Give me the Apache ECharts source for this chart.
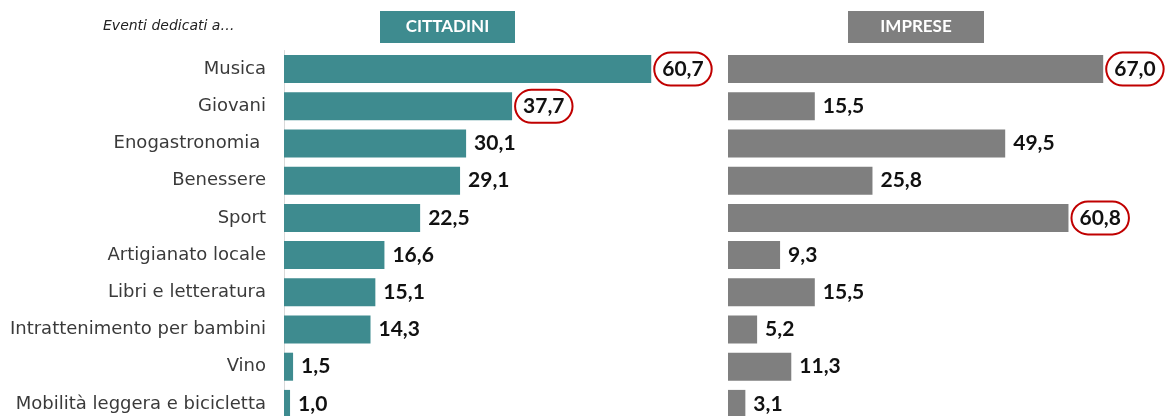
<!DOCTYPE html>
<html>
<head>
<meta charset="utf-8">
<script src="https://cdn.jsdelivr.net/npm/echarts@6/dist/echarts.min.js"></script>
<style>
  html, body { margin: 0; padding: 0; background: #fff; }
  #chart { width: 1171px; height: 416px; }
</style>
</head>
<body>
<div id="chart"></div>
<script>
// dati
const categorie = [
  'Musica', 'Giovani', 'Enogastronomia ', 'Benessere', 'Sport',
  'Artigianato locale', 'Libri e letteratura', 'Intrattenimento per bambini',
  'Vino', 'Mobilità leggera e bicicletta'
];
const cittadini = [60.7, 37.7, 30.1, 29.1, 22.5, 16.6, 15.1, 14.3, 1.5, 1.0];
const imprese = [67.0, 15.5, 49.5, 25.8, 60.8, 9.3, 15.5, 5.2, 11.3, 3.1];
// valori cerchiati in rosso
const evidCittadini = ['Musica', 'Giovani'];
const evidImprese = ['Musica', 'Sport'];

const TEAL = '#3e8b8f';
const GREY = '#7f7f7f';

const fmt = v => v.toFixed(1).replace('.', ',');

const labelBase = {
  show: true,
  position: 'right',
  distance: 8,
  color: '#111',
  fontFamily: 'Lato',
  fontWeight: 'bold',
  fontSize: 21,
  formatter: p => fmt(p.value)
};

const cerchio = {
  distance: 3,
  borderColor: '#c00000',
  borderWidth: 2,
  borderRadius: 18,
  padding: [7, 8, 5, 8]
};

function buildData(values, evid) {
  return values.map((v, i) => {
    if (evid.includes(categorie[i].trim())) {
      return { value: v, label: cerchio };
    }
    return v;
  });
}

const chart = echarts.init(document.getElementById('chart'));

const header = (x, w, text, color) => ({
  type: 'group',
  left: x,
  top: 11,
  children: [
    { type: 'rect', shape: { x: 0, y: 0, width: w, height: 32 }, style: { fill: color } },
    {
      type: 'text', x: w / 2, y: 16,
      style: {
        text: text, fill: '#fff', align: 'center', verticalAlign: 'middle',
        font: 'bold 17px Lato'
      }
    }
  ]
});

chart.setOption({
  animation: false,
  grid: [
    { left: 284, top: 50.5, width: 423.5, height: 372, outerBoundsMode: 'none' },
    { left: 728, top: 50.5, width: 420, height: 372, outerBoundsMode: 'none' }
  ],
  xAxis: [
    { gridIndex: 0, type: 'value', min: 0, max: 70, show: false },
    { gridIndex: 1, type: 'value', min: 0, max: 75, show: false }
  ],
  yAxis: [
    {
      gridIndex: 0, type: 'category', data: categorie, inverse: true,
      axisLine: { show: true, lineStyle: { color: '#d9d9d9', width: 1 } },
      axisTick: { show: false },
      axisLabel: { margin: 18, color: '#3a3a3a', fontSize: 18, fontFamily: 'DejaVu Sans' }
    },
    {
      gridIndex: 1, type: 'category', data: categorie, inverse: true,
      axisLine: { show: false }, axisTick: { show: false }, axisLabel: { show: false }
    }
  ],
  graphic: [
    {
      type: 'text', left: 103, top: 19,
      style: { text: 'Eventi dedicati a…', fill: '#222', font: 'italic 14px DejaVu Sans' }
    },
    header(380, 135, 'CITTADINI', TEAL),
    header(848, 136, 'IMPRESE', GREY)
  ],
  series: [
    {
      name: 'Cittadini', type: 'bar', xAxisIndex: 0, yAxisIndex: 0,
      data: buildData(cittadini, evidCittadini),
      barWidth: 28,
      itemStyle: { color: TEAL },
      label: labelBase
    },
    {
      name: 'Imprese', type: 'bar', xAxisIndex: 1, yAxisIndex: 1,
      data: buildData(imprese, evidImprese),
      barWidth: 28,
      itemStyle: { color: GREY },
      label: labelBase
    }
  ]
});
</script>
</body>
</html>
